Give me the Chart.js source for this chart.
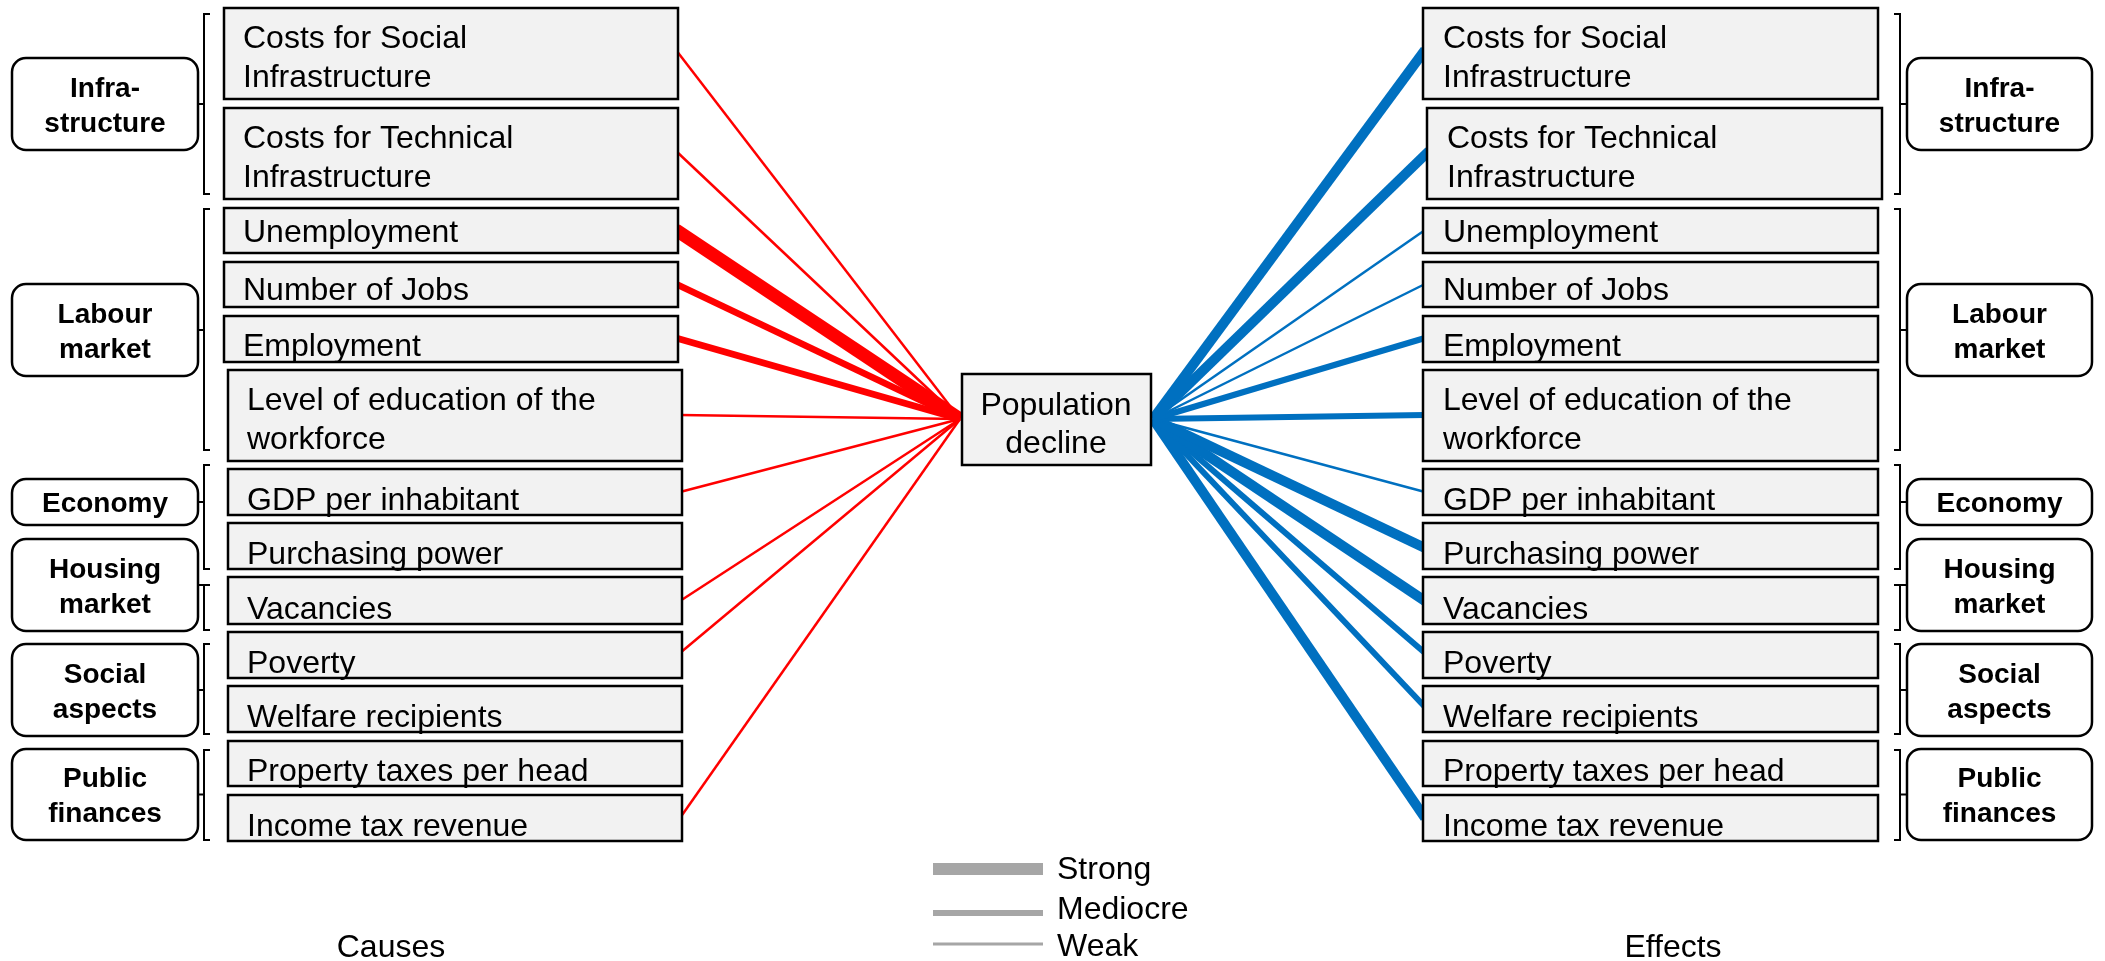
<!DOCTYPE html>
<html>
<head>
<meta charset="utf-8">
<script src="https://cdn.jsdelivr.net/npm/chart.js@4.4.1/dist/chart.umd.min.js"></script>
<style>
  html, body { margin: 0; padding: 0; background: #fff; }
  canvas { display: block; }
</style>
</head>
<body>
<canvas id="declineChart" width="2105" height="961"></canvas>
<script>
'use strict'

// Faktoren (gleiche Liste links und rechts)
const factors = [
  'Costs for Social\nInfrastructure',
  'Costs for Technical\nInfrastructure',
  'Unemployment',
  'Number of Jobs',
  'Employment',
  'Level of education of the\nworkforce',
  'GDP per inhabitant',
  'Purchasing power',
  'Vacancies',
  'Poverty',
  'Welfare recipients',
  'Property taxes per head',
  'Income tax revenue'
];
const groupNames = ['Infra-\nstructure', 'Labour\nmarket', 'Economy', 'Housing\nmarket', 'Social\naspects', 'Public\nfinances'];
const groupOfFactor = [0, 0, 1, 1, 1, 1, 2, 2, 3, 4, 4, 5, 5];

// 0 = none, 1 = weak, 2 = mediocre, 3 = strong
const causeStrength  = [1, 1, 3, 2, 2, 1, 1, 0, 1, 1, 0, 0, 1];
const effectStrength = [3, 3, 1, 1, 2, 2, 1, 3, 3, 2, 2, 0, 3];
const strengthNames = ['', 'Weak', 'Mediocre', 'Strong'];

const centerLabel = 'Population\ndecline';
const sideTitles = ['Causes', 'Effects'];

// layout (px)
const rowTop    = [8, 108, 208, 262, 316, 370, 469, 523, 577, 632, 686, 741, 795];
const rowBottom = [99, 199, 253, 307, 362, 461, 515, 569, 624, 678, 732, 786, 841];
const rowAnchor = [50, 151, 230, 284, 338, 415, 492, 548, 601, 653, 707, 763, 818];
const textLift  = [0, 0, 11, 7, 6, 0, 5, 5, 5, 5, 5, 5, 5];
const groupBoxY = [[58, 150], [284, 376], [479, 525], [539, 631], [644, 736], [749, 840]];
const bracketY  = [[14, 194], [209, 450], [465, 569], [585, 630], [644, 734], [750, 840]];
const causeWidths  = [0, 2.5, 6.5, 13];
const effectWidths = [0, 2.5, 6, 10];
const legendWidths = [0, 3, 6, 12];

const leftBoxX = (i) => (i === 1 || i < 5) ? [224, 678] : [228, 682];
const rightBoxX = (i) => i === 1 ? [1427, 1882] : [1423, 1878];
const centerBox = {x1: 962, x2: 1151, y1: 374, y2: 465};
const hubLeft = {x: 960, y: 419};
const hubRight = {x: 1153, y: 419};

const FONT = '"Liberation Sans", Arial, sans-serif';

// Linien als Datensätze
const datasets = [];
factors.forEach((name, i) => {
  if (causeStrength[i] > 0) {
    datasets.push({
      label: 'cause: ' + name,
      data: [{x: leftBoxX(i)[1] - 2, y: rowAnchor[i]}, {x: hubLeft.x, y: hubLeft.y}],
      borderColor: '#ff0000',
      borderWidth: causeWidths[causeStrength[i]],
    });
  }
  if (effectStrength[i] > 0) {
    datasets.push({
      label: 'effect: ' + name,
      data: [{x: hubRight.x, y: hubRight.y}, {x: rightBoxX(i)[0] + 2, y: rowAnchor[i]}],
      borderColor: '#0070c0',
      borderWidth: effectWidths[effectStrength[i]],
    });
  }
});

function box(c, x1, y1, x2, y2, fill) {
  c.fillStyle = fill;
  c.fillRect(x1, y1, x2 - x1, y2 - y1);
  c.strokeStyle = '#000';
  c.lineWidth = 2.5;
  c.strokeRect(x1, y1, x2 - x1, y2 - y1);
}

function groupBox(c, x1, y1, x2, y2, text) {
  c.beginPath();
  c.roundRect(x1, y1, x2 - x1, y2 - y1, 14);
  c.fillStyle = '#fff';
  c.fill();
  c.strokeStyle = '#000';
  c.lineWidth = 2.5;
  c.stroke();
  const lines = text.split('\n');
  const mid = (y1 + y2) / 2;
  c.fillStyle = '#000';
  c.font = 'bold 28px ' + FONT;
  c.textAlign = 'center';
  c.textBaseline = 'alphabetic';
  lines.forEach((l, k) => {
    c.fillText(l, (x1 + x2) / 2, mid + 10 + (k - (lines.length - 1) / 2) * 35);
  });
}

function boxText(c, text, x, top, bottom, lift) {
  const lines = text.split('\n');
  c.fillStyle = '#000';
  c.font = '32px ' + FONT;
  c.textAlign = 'left';
  c.textBaseline = 'alphabetic';
  if (lines.length === 1) {
    c.fillText(lines[0], x, bottom - lift);
  } else {
    c.fillText(lines[0], x, top + 40);
    c.fillText(lines[1], x, top + 79);
  }
}

function bracket(c, x, y1, y2, dir, tickY, tickTo) {
  c.strokeStyle = '#000';
  c.lineWidth = 2;
  c.beginPath();
  c.moveTo(x + dir * 6, y1);
  c.lineTo(x, y1);
  c.lineTo(x, y2);
  c.lineTo(x + dir * 6, y2);
  c.moveTo(x, tickY);
  c.lineTo(tickTo, tickY);
  c.stroke();
}

const diagramPlugin = {
  id: 'diagram',
  afterDatasetsDraw(chart) {
    const c = chart.ctx;
    const sx = chart.scales.x, sy = chart.scales.y;
    const X = (v) => sx.getPixelForValue(v);
    const Y = (v) => sy.getPixelForValue(v);
    c.save();

    // Faktor-Kästen
    factors.forEach((name, i) => {
      const l = leftBoxX(i), r = rightBoxX(i);
      box(c, X(l[0]), Y(rowTop[i]), X(l[1]), Y(rowBottom[i]), '#f2f2f2');
      boxText(c, name, X(l[0]) + 19, Y(rowTop[i]), Y(rowBottom[i]), textLift[i]);
      box(c, X(r[0]), Y(rowTop[i]), X(r[1]), Y(rowBottom[i]), '#f2f2f2');
      boxText(c, name, X(r[0]) + 20, Y(rowTop[i]), Y(rowBottom[i]), textLift[i]);
    });

    // Gruppen + Klammern
    groupNames.forEach((g, k) => {
      const gy = groupBoxY[k], by = bracketY[k];
      const mid = (gy[0] + gy[1]) / 2;
      groupBox(c, X(12), Y(gy[0]), X(198), Y(gy[1]), g);
      bracket(c, X(204), Y(by[0]), Y(by[1]), 1, Y(mid), X(198));
      groupBox(c, X(1907), Y(gy[0]), X(2092), Y(gy[1]), g);
      bracket(c, X(1900), Y(by[0]), Y(by[1]), -1, Y(mid), X(1907));
    });

    // Mitte
    box(c, X(centerBox.x1), Y(centerBox.y1), X(centerBox.x2), Y(centerBox.y2), '#f2f2f2');
    c.fillStyle = '#000';
    c.font = '32px ' + FONT;
    c.textAlign = 'center';
    const cl = centerLabel.split('\n');
    c.fillText(cl[0], X(1056), Y(415));
    c.fillText(cl[1], X(1056), Y(453));

    // Titel unten
    c.fillText(sideTitles[0], X(391), Y(957));
    c.fillText(sideTitles[1], X(1673), Y(957));

    // Legende
    const legY = [0, 944, 913, 869];
    const legText = [0, 956, 919, 879];
    [3, 2, 1].forEach((s) => {
      c.strokeStyle = '#a6a6a6';
      c.lineWidth = legendWidths[s];
      c.beginPath();
      c.moveTo(X(933), Y(legY[s]));
      c.lineTo(X(1043), Y(legY[s]));
      c.stroke();
      c.fillStyle = '#000';
      c.textAlign = 'left';
      c.font = '32px ' + FONT;
      c.fillText(strengthNames[s], X(1057), Y(legText[s]));
    });

    c.restore();
  }
};

const ctx = document.getElementById('declineChart');
const myChart = new Chart(ctx, {
  type: 'scatter',
  data: { datasets: datasets },
  options: {
    responsive: false,
    animation: false,
    devicePixelRatio: 1,
    showLine: true,
    elements: {
      point: { radius: 0, hoverRadius: 0 },
      line: { borderCapStyle: 'butt', tension: 0 }
    },
    layout: { padding: 0 },
    scales: {
      x: { type: 'linear', min: 0, max: 2105, display: false },
      y: { type: 'linear', min: 0, max: 961, reverse: true, display: false }
    },
    plugins: {
      legend: { display: false },
      tooltip: { enabled: false }
    }
  },
  plugins: [diagramPlugin]
});
</script>
</body>
</html>
